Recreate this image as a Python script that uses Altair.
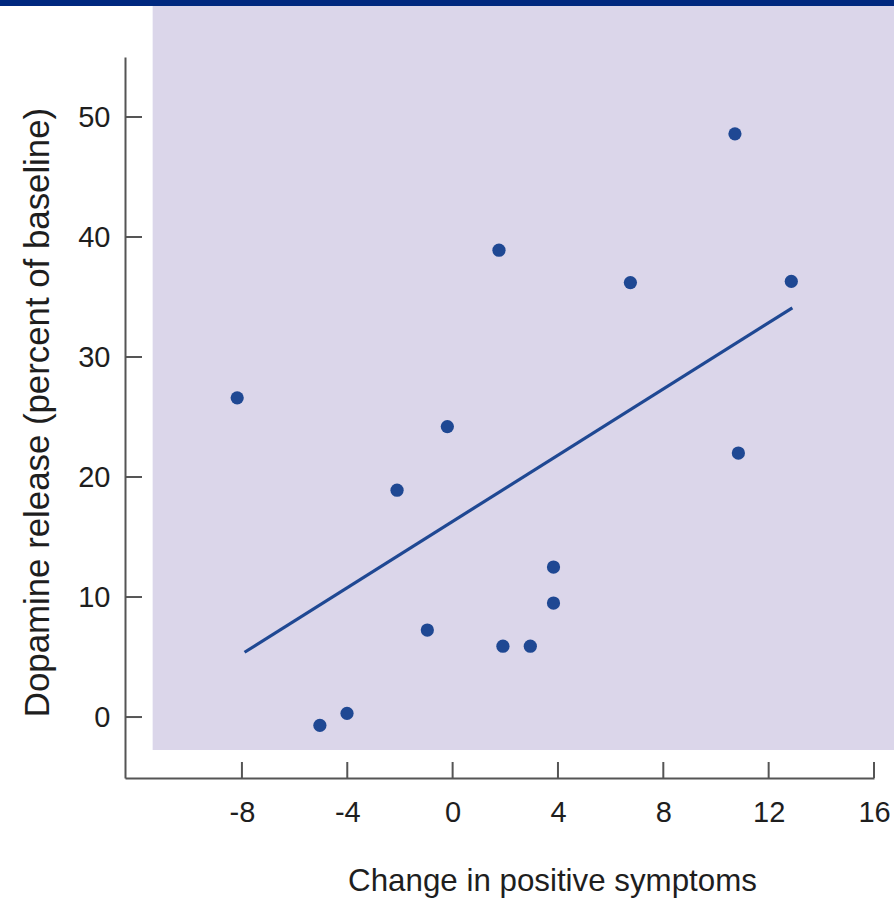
import altair as alt
import pandas as pd

# Data
change_symptoms = [-8.18, -5.04, -4.01, -2.11, -0.96, -0.20, 1.76, 1.91, 2.95, 3.83, 3.83, 6.75, 10.72, 10.85, 12.86]
dopamine_release = [26.6, -0.7, 0.3, 18.9, 7.25, 24.2, 38.9, 5.9, 5.9, 12.5, 9.5, 36.2, 48.6, 22.0, 36.3]

fit_x = [-7.9, 12.9]
fit_y = [5.4, 34.1]

x_ticks = [-8, -4, 0, 4, 8, 12, 16]
y_ticks = [0, 10, 20, 30, 40, 50]

x_domain = [-12.44, 16]
y_domain = [-5.08, 55]

panel_x = [-11.39, 17.5]
panel_y = [-2.75, 59.3]

DOT = "#1f4893"
LAV = "#dbd6ea"
BAR = "#00287f"
AXIS = "#555555"
TEXT = "#1e1e1e"
FONT = "Liberation Sans"

W, H = 749, 721

pts = pd.DataFrame({"x": change_symptoms, "y": dopamine_release})
fit = pd.DataFrame({"x": fit_x, "y": fit_y})
panel = pd.DataFrame({"x": [panel_x[0]], "x2": [panel_x[1]], "y": [panel_y[0]], "y2": [panel_y[1]]})
xt = pd.DataFrame({"x": x_ticks})
yt = pd.DataFrame({"y": y_ticks})

xs = alt.Scale(domain=x_domain, nice=False, zero=False)
ys = alt.Scale(domain=y_domain, nice=False, zero=False)

x_axis = alt.Axis(
    values=x_ticks, title="Change in positive symptoms", grid=False, ticks=False,
    labelExpr="'' + datum.value",
    labelPadding=43, labelBaseline="alphabetic", labelFontSize=29, labelFont=FONT,
    labelColor=TEXT, domainColor=AXIS, domainWidth=2,
    titleFont=FONT, titleFontSize=31.3, titleFontWeight="normal", titleColor=TEXT,
    titleX=427, titleY=112, titleBaseline="alphabetic", titleAlign="center",
    labelFlush=False, labelOverlap=False,
)
y_axis = alt.Axis(
    values=y_ticks, title="Dopamine release (percent of baseline)", grid=False, ticks=False,
    labelExpr="'' + datum.value",
    labelPadding=15, labelBaseline="middle", labelAlign="right", labelFontSize=29, labelFont=FONT,
    labelColor=TEXT, domainColor=AXIS, domainWidth=2,
    titleFont=FONT, titleFontSize=34.8, titleFontWeight="normal", titleColor=TEXT,
    titleX=-77, titleY=355, titleBaseline="alphabetic", titleAlign="center", titleAngle=270,
    labelFlush=False, labelOverlap=False,
)

X = alt.X("x:Q", scale=xs, axis=x_axis)
Y = alt.Y("y:Q", scale=ys, axis=y_axis)

bg = alt.Chart(panel).mark_rect(color=LAV).encode(x=X, x2="x2:Q", y=Y, y2="y2:Q")

topbar = alt.Chart(panel).mark_rect(color=BAR).encode(
    x=alt.value(-125), x2=alt.value(W + 20), y=alt.value(-57), y2=alt.value(-51)
)

line = alt.Chart(fit).mark_line(color=DOT, strokeWidth=3.2).encode(x=X, y=Y)

dots = alt.Chart(pts).mark_circle(color=DOT, opacity=1, size=175).encode(x=X, y=Y)

xtick = alt.Chart(xt).mark_rule(color=AXIS, strokeWidth=2).encode(
    x=X, y=alt.value(H), y2=alt.value(H - 16)
)
ytick = alt.Chart(yt).mark_rule(color=AXIS, strokeWidth=2).encode(
    y=Y, x=alt.value(0), x2=alt.value(17)
)

chart = alt.layer(bg, topbar, line, dots, xtick, ytick).properties(
    width=W, height=H,
    autosize=alt.AutoSizeParams(type="none"),
    padding={"left": 125, "top": 57, "right": 20, "bottom": 122},
    background="white",
).configure_view(stroke=None)

chart.save("out.html", embed_options={"renderer": "svg", "actions": False})
